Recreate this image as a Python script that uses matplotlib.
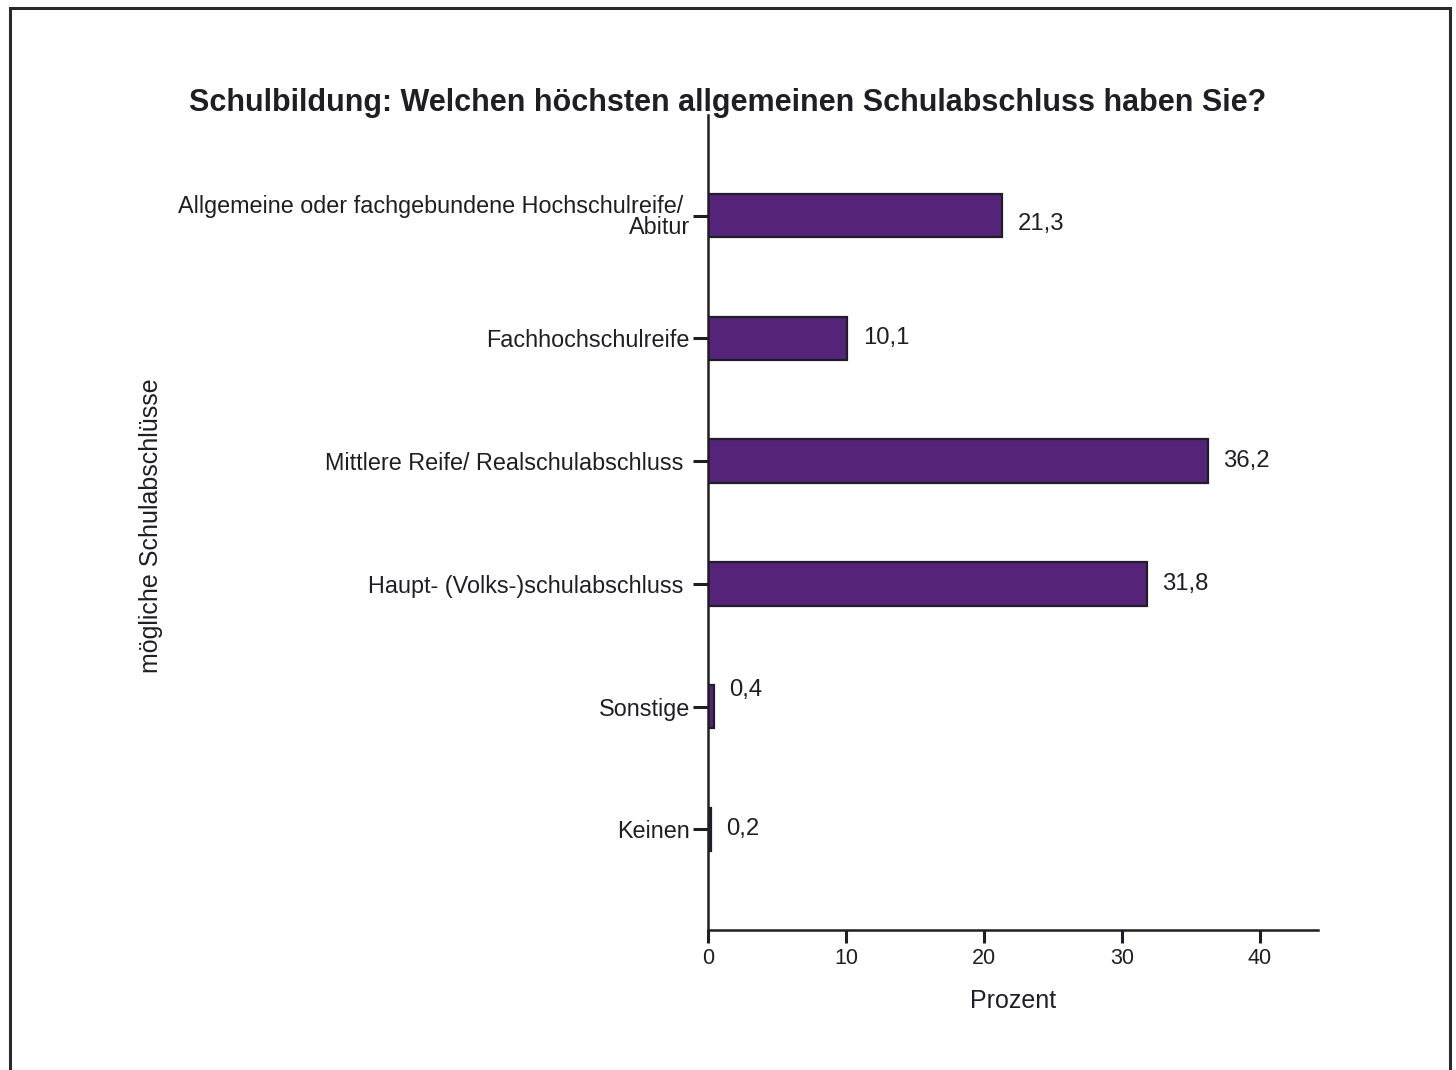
import matplotlib.pyplot as plt
from matplotlib.patches import Rectangle

plt.rcParams['font.family'] = ['Liberation Sans', 'DejaVu Sans']

categories = [
    "Allgemeine oder fachgebundene Hochschulreife/ \nAbitur",
    "Fachhochschulreife",
    "Mittlere Reife/ Realschulabschluss ",
    "Haupt- (Volks-)schulabschluss ",
    "Sonstige",
    "Keinen",
]
values = [21.3, 10.1, 36.2, 31.8, 0.4, 0.2]
value_labels = ["21,3", "10,1", "36,2", "31,8", "0,4", "0,2"]
xticks = [0, 10, 20, 30, 40]

# small vertical nudges (points) for the value labels
label_dy = [-6, 0, 0, 0, 12, 0]

bar_color = "#55247a"
ink = "#1e1e24"

fig = plt.figure(figsize=(14.56, 10.70), dpi=100)
ax = fig.add_axes([0.4863, 0.1308, 0.9052 - 0.4863, 0.8925 - 0.1308])

pos = list(range(len(categories)))
ax.barh(pos, values, height=0.355, color=bar_color, edgecolor=ink, linewidth=1.6)

for p, v, lab, dy in zip(pos, values, value_labels, label_dy):
    ax.annotate(lab, (v, p), xytext=(11, dy), textcoords='offset points',
                ha='left', va='center', fontsize=17.2, color=ink)

ax.set_ylim(len(categories) - 1 + 0.82, -0.82)
ax.set_xlim(0, 44.2)
ax.set_yticks(pos)
ax.set_yticklabels(categories, fontsize=16.8, color=ink, linespacing=0.9)
ax.set_xticks(xticks)
ax.set_xticklabels([str(t) for t in xticks], fontsize=15.5, color=ink)

ax.spines['top'].set_visible(False)
ax.spines['right'].set_visible(False)
for s in ('left', 'bottom'):
    ax.spines[s].set_linewidth(1.8)
    ax.spines[s].set_color(ink)
ax.tick_params(axis='y', length=11, width=2.2, pad=2, color=ink)
ax.tick_params(axis='x', length=9, width=2.2, pad=4, color=ink)

ax.set_xlabel("Prozent", fontsize=18, color=ink, labelpad=14)
fig.text(0.104, 0.509, "mögliche Schulabschlüsse", rotation=90,
         ha='center', va='center', fontsize=18, color=ink)

fig.text(0.5, 1 - 103 / 1070, "Schulbildung: Welchen höchsten allgemeinen Schulabschluss haben Sie?",
         ha='center', va='center', fontsize=22, fontweight='bold', color=ink)

# outer frame, open at the bottom edge
fig.patches.append(Rectangle((10 / 1456, -0.05), 1440 / 1456, 1.05 - 8 / 1070,
                             transform=fig.transFigure, fill=False,
                             edgecolor="#2a2a2e", linewidth=2.2))

fig.savefig("out.png", dpi=100)
